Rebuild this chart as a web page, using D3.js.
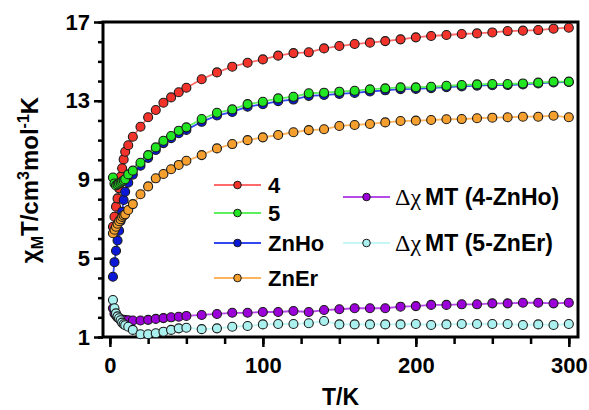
<!DOCTYPE html>
<html>
<head>
<meta charset="utf-8">
<script src="https://cdn.jsdelivr.net/npm/d3@7/dist/d3.min.js"></script>
<style>
    body { margin: 0; background: #fff; }
    text { font-family: "Liberation Sans", Arial, sans-serif; font-weight: bold; fill: #000; }
</style>
</head>
<body>
<div id="chart"></div>
<script>
// temperatures (K) shared by all the curves
var temps = [2, 3, 4, 5, 6, 7, 8, 9, 10, 12, 15, 20, 25, 30, 35, 40, 45, 50,
    60, 70, 80, 90, 100, 110, 120, 130, 140, 150, 160, 170, 180, 190, 200,
    210, 220, 230, 240, 250, 260, 270, 280, 290, 300];

// chiM*T values
var chi4 = [6.6, 7.11, 7.62, 8.04, 8.55, 9.14, 9.57, 10.02, 10.41, 10.74, 11.17,
    11.68, 12.16, 12.53, 12.90, 13.17, 13.43, 13.66,
    14.09, 14.44, 14.73, 14.93, 15.10, 15.29, 15.42, 15.46, 15.66, 15.78, 15.88, 15.95,
    16.03, 16.12, 16.22, 16.29, 16.34, 16.39, 16.42, 16.47, 16.54, 16.56, 16.59, 16.66, 16.71];
var chi5 = [9.1, 8.8, 8.7, 8.75, 8.8, 8.85, 8.9, 8.95, 9.01, 9.26, 9.45,
    9.85, 10.24, 10.63, 10.97, 11.21, 11.48, 11.65,
    12.07, 12.39, 12.56, 12.83, 12.95, 13.12, 13.20, 13.38, 13.41, 13.46, 13.51, 13.58,
    13.63, 13.68, 13.68, 13.71, 13.76, 13.80, 13.83, 13.85, 13.85, 13.88, 13.92, 13.97, 13.97];
var chiZnHo = [4.06, 4.8, 5.38, 5.9, 6.4, 6.9, 7.36, 7.96, 8.38, 8.84, 9.25,
    9.7, 10.1, 10.5, 10.85, 11.1, 11.35, 11.52,
    11.93, 12.25, 12.43, 12.7, 12.82, 12.98, 13.06, 13.25, 13.29, 13.35, 13.4, 13.47,
    13.53, 13.59, 13.6, 13.64, 13.69, 13.73, 13.77, 13.79, 13.8, 13.83, 13.88, 13.93, 13.95];
var chiZnEr = [6.27, 6.45, 6.6, 6.75, 6.88, 6.98, 7.1, 7.17, 7.23, 7.45, 7.75,
    8.25, 8.65, 9.06, 9.28, 9.52, 9.74, 9.95,
    10.24, 10.58, 10.80, 11.0, 11.14, 11.26, 11.40, 11.51, 11.55, 11.72, 11.77, 11.82,
    11.90, 11.97, 11.99, 12.02, 12.06, 12.07, 12.11, 12.14, 12.16, 12.19, 12.19, 12.24, 12.16];
var delta4 = [2.46, 2.2, 2.1, 2.0, 1.95, 1.9, 1.88, 1.87, 1.86, 1.85, 1.84,
    1.84, 1.87, 1.92, 1.96, 2.0, 2.03, 2.07,
    2.12, 2.17, 2.23, 2.23, 2.27, 2.27, 2.32, 2.27, 2.37, 2.41, 2.46, 2.46,
    2.46, 2.54, 2.57, 2.63, 2.63, 2.66, 2.66, 2.71, 2.71, 2.74, 2.74, 2.71, 2.74];
var delta5 = [2.88, 2.46, 2.2, 2.05, 1.95, 1.85, 1.73, 1.65, 1.6, 1.52, 1.36,
    1.14, 1.14, 1.19, 1.27, 1.36, 1.44, 1.47,
    1.40, 1.44, 1.52, 1.56, 1.64, 1.66, 1.66, 1.70, 1.81, 1.64, 1.64, 1.64,
    1.64, 1.64, 1.66, 1.61, 1.64, 1.66, 1.66, 1.66, 1.66, 1.61, 1.64, 1.61, 1.66];

var seriesNames = ['4', '5', 'ZnHo', 'ZnEr', '\u0394\u03c7MT (4-ZnHo)', '\u0394\u03c7MT (5-ZnEr)'];
var xTicks = [0, 100, 200, 300];
var yTicks = [1, 5, 9, 13, 17];

// styles
var fills = ['#f2332b', '#22e622', '#0b18d6', '#f5a02e', '#9b00d9', '#aaf0ee'];
var strokes = ['#ff6a6a', '#5cf05c', '#3347f0', '#ffb45e', '#b64ae8', '#c4f7f5'];
var values = [chi4, chi5, chiZnHo, chiZnEr, delta4, delta5];
var drawOrder = [0, 2, 1, 3, 4, 5];

var width = 589, height = 410;
var box = { left: 103, right: 578, top: 22, bottom: 337 };

var svg = d3.select('#chart').append('svg').attr('width', width).attr('height', height);

var x = d3.scaleLinear().domain([-4.5, 306]).range([box.left, box.right]);
var y = d3.scaleLinear().domain([1, 17]).range([box.bottom, box.top]);

// minor ticks
svg.append('g').attr('transform', 'translate(' + box.left + ',0)')
    .call(d3.axisLeft(y).tickValues(d3.range(1, 18)).tickSize(5).tickFormat(''))
    .call(function(g) { g.select('.domain').remove(); g.selectAll('line').attr('stroke-width', 2.5); });
svg.append('g').attr('transform', 'translate(0,' + box.bottom + ')')
    .call(d3.axisBottom(x).tickValues(d3.range(0, 301, 25)).tickSize(7).tickFormat(''))
    .call(function(g) { g.select('.domain').remove(); g.selectAll('line').attr('stroke-width', 2.5); });

// major ticks + labels
svg.append('g').attr('transform', 'translate(' + box.left + ',0)')
    .call(d3.axisLeft(y).tickValues(yTicks).tickSize(9).tickPadding(4))
    .call(function(g) {
        g.select('.domain').remove();
        g.selectAll('line').attr('stroke-width', 2.5);
        g.selectAll('text').attr('font-size', 22).attr('font-family', null);
    });
svg.append('g').attr('transform', 'translate(0,' + box.bottom + ')')
    .call(d3.axisBottom(x).tickValues(xTicks).tickSize(10).tickPadding(10))
    .call(function(g) {
        g.select('.domain').remove();
        g.selectAll('line').attr('stroke-width', 2.5);
        g.selectAll('text').attr('font-size', 22).attr('font-family', null);
    });

// frame
svg.append('rect').attr('x', box.left).attr('y', box.top)
    .attr('width', box.right - box.left).attr('height', box.bottom - box.top)
    .attr('fill', 'none').attr('stroke', '#000').attr('stroke-width', 3);

var line = d3.line().x(function(d) { return x(d[0]); }).y(function(d) { return y(d[1]); });

drawOrder.forEach(function(s) {
    var pts = temps.map(function(t, i) { return [t, values[s][i]]; });
    var g = svg.append('g');
    g.append('path').datum(pts).attr('d', line).attr('fill', 'none')
        .attr('stroke', strokes[s]).attr('stroke-width', 1.8);
    g.selectAll('circle').data(pts).enter().append('circle')
        .attr('cx', function(d) { return x(d[0]); })
        .attr('cy', function(d) { return y(d[1]); })
        .attr('r', 4.5)
        .attr('fill', fills[s]).attr('stroke', '#1a1a1a').attr('stroke-width', 1.1);
});

// legend
var legendPos = [[214, 185], [214, 213], [214, 243], [214, 278], [343, 197], [343, 243]];
seriesNames.forEach(function(name, s) {
    var lx = legendPos[s][0], ly = legendPos[s][1];
    var lg = svg.append('g').attr('transform', 'translate(' + lx + ',' + ly + ')');
    lg.append('line').attr('x1', 0).attr('x2', 47).attr('y1', 0).attr('y2', 0)
        .attr('stroke', strokes[s]).attr('stroke-width', 1.8);
    lg.append('circle').attr('cx', 23.5).attr('cy', 0).attr('r', 3.8)
        .attr('fill', fills[s]).attr('stroke', '#1a1a1a').attr('stroke-width', 1);
    var t = lg.append('text').attr('x', s < 4 ? 54 : 52).attr('dy', '0.35em').attr('font-size', s < 4 ? 22 : 23);
    if (s < 4) {
        t.text(name);
    } else {
        t.append('tspan').attr('font-family', '"Liberation Serif", serif').attr('font-weight', 'normal')
            .attr('font-size', 24).text(name.slice(0, 2));
        t.append('tspan').attr('dx', 4).text(name.slice(2));
    }
});

// axis titles
svg.append('text').attr('x', (box.left + box.right) / 2).attr('y', 405)
    .attr('text-anchor', 'middle').attr('font-size', 23).text('T/K');

var yl = svg.append('text').attr('transform', 'translate(38,180) rotate(-90)')
    .attr('text-anchor', 'middle').attr('font-size', 24);
yl.append('tspan').text('\u03c7');
yl.append('tspan').attr('font-size', 16).attr('dy', 5).text('M');
yl.append('tspan').attr('dy', -5).text('T/cm');
yl.append('tspan').attr('font-size', 16).attr('dy', -9).text('3');
yl.append('tspan').attr('dy', 9).text('mol');
yl.append('tspan').attr('font-size', 16).attr('dy', -9).text('-1');
yl.append('tspan').attr('dy', 9).text('K');
</script>
</body>
</html>
